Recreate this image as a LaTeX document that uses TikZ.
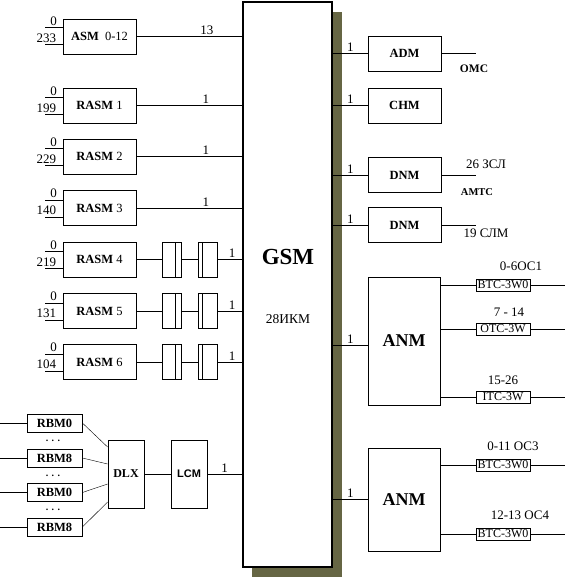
\documentclass[tikz,border=0pt]{standalone}
\usepackage{fontspec}
\setmainfont{Liberation Serif}
\setsansfont{Liberation Sans}
\definecolor{gsmshadow}{RGB}{102,102,68}

\begin{document}
\begin{tikzpicture}[x=1pt,y=-1pt,line width=0.8pt,
  blk/.style={draw,fill=white,minimum width=73pt,minimum height=35pt,inner sep=0pt,font=\fontsize{12.5}{14}\selectfont},
  rbm/.style={draw,minimum width=55pt,minimum height=18pt,inner sep=0pt,font=\fontsize{12.5}{14}\selectfont\bfseries},
  tc/.style={draw,minimum width=54pt,minimum height=12pt,inner sep=0pt,font=\fontsize{12}{12}\selectfont},
  lbl/.style={font=\fontsize{13}{15}\selectfont,inner sep=1.5pt},
  fltl/.style={draw,minimum width=19pt,minimum height=35pt,inner sep=0pt,
    path picture={\draw ([xshift=-6pt]path picture bounding box.north east) -- ([xshift=-6pt]path picture bounding box.south east);}},
  fltr/.style={draw,minimum width=19pt,minimum height=35pt,inner sep=0pt,
    path picture={\draw ([xshift=4pt]path picture bounding box.north west) -- ([xshift=4pt]path picture bounding box.south west);}}]
\useasboundingbox (0,0) rectangle (567,579);

\fill [gsmshadow] (252,12) rectangle (342,577);
\node (gsm) [draw,fill=white,line width=2.5pt,minimum width=89pt,minimum height=565pt,inner sep=0pt] at (287.5,284.5) {};
\node (gsmt) [font=\fontsize{23}{26}\selectfont\bfseries] at (288,257) {GSM};
\node (ikm) [font=\fontsize{13.5}{15}\selectfont] at (288,319) {28ИКМ};

% left side
\node[blk] (asm) at (99.5,36.5) {\textbf{ASM}\ \ 0-12};
\node[blk] (rasm1) at (99.5,105.5) {\textbf{RASM} 1};
\node[blk] (rasm2) at (99.5,156.5) {\textbf{RASM} 2};
\node[blk] (rasm3) at (99.5,208) {\textbf{RASM} 3};
\node[blk] (rasm4) at (99.5,259.5) {\textbf{RASM} 4};
\node[blk] (rasm5) at (99.5,311) {\textbf{RASM} 5};
\node[blk] (rasm6) at (99.5,362) {\textbf{RASM} 6};

\draw ([yshift=9pt]asm.west) -- ++(-18,0) node[lbl,pos=0.5,above] {0};
\draw ([yshift=-8pt]asm.west) -- ++(-18,0) node[lbl,pos=1,above right,xshift=-10pt] {233};
\draw ([yshift=8pt]rasm1.west) -- ++(-18,0) node[lbl,pos=0.5,above] {0};
\draw ([yshift=-9pt]rasm1.west) -- ++(-18,0) node[lbl,pos=1,above right,xshift=-10pt] {199};
\draw ([yshift=8pt]rasm2.west) -- ++(-18,0) node[lbl,pos=0.5,above] {0};
\draw ([yshift=-9pt]rasm2.west) -- ++(-18,0) node[lbl,pos=1,above right,xshift=-10pt] {229};
\draw ([yshift=8pt]rasm3.west) -- ++(-18,0) node[lbl,pos=0.5,above] {0};
\draw ([yshift=-9pt]rasm3.west) -- ++(-18,0) node[lbl,pos=1,above right,xshift=-10pt] {140};
\draw ([yshift=8pt]rasm4.west) -- ++(-18,0) node[lbl,pos=0.5,above] {0};
\draw ([yshift=-9pt]rasm4.west) -- ++(-18,0) node[lbl,pos=1,above right,xshift=-10pt] {219};
\draw ([yshift=8pt]rasm5.west) -- ++(-18,0) node[lbl,pos=0.5,above] {0};
\draw ([yshift=-9pt]rasm5.west) -- ++(-18,0) node[lbl,pos=1,above right,xshift=-10pt] {131};
\draw ([yshift=8pt]rasm6.west) -- ++(-18,0) node[lbl,pos=0.5,above] {0};
\draw ([yshift=-9pt]rasm6.west) -- ++(-18,0) node[lbl,pos=1,above right,xshift=-10pt] {104};

\draw (asm) -- (asm -| gsm.west) node[lbl,pos=0.67,above] {13};
\draw (rasm1) -- (rasm1 -| gsm.west) node[lbl,pos=0.66,above] {1};
\draw (rasm2) -- (rasm2 -| gsm.west) node[lbl,pos=0.66,above] {1};
\draw (rasm3) -- (rasm3 -| gsm.west) node[lbl,pos=0.66,above] {1};

\node[fltl] (f4a) at (171.5,259.5) {};
\node[fltr] (f4b) at (207.5,259.5) {};
\node[fltl] (f5a) at (171.5,311) {};
\node[fltr] (f5b) at (207.5,311) {};
\node[fltl] (f6a) at (171.5,362) {};
\node[fltr] (f6b) at (207.5,362) {};
\draw (rasm4) -- (f4a) -- (f4b) -- (f4b -| gsm.west) node[lbl,pos=0.6,above] {1};
\draw (rasm5) -- (f5a) -- (f5b) -- (f5b -| gsm.west) node[lbl,pos=0.6,above] {1};
\draw (rasm6) -- (f6a) -- (f6b) -- (f6b -| gsm.west) node[lbl,pos=0.6,above] {1};

% RBM, DLX, LCM
\node[rbm] (rbma) at (54.5,423) {RBM0};
\node[rbm] (rbmb) at (54.5,458) {RBM8};
\node[rbm] (rbmc) at (54.5,492.5) {RBM0};
\node[rbm] (rbmd) at (54.5,527) {RBM8};
\node (dota) [font=\bfseries] at (53,441) {. . .};
\node (dotb) [font=\bfseries] at (53,476) {. . .};
\node (dotc) [font=\bfseries] at (53,510) {. . .};
\draw (rbma.west) -- ++(-27,0);
\draw (rbmb.west) -- ++(-27,0);
\draw (rbmc.west) -- ++(-27,0);
\draw (rbmd.west) -- ++(-27,0);

\node (dlx) [draw,minimum width=36pt,minimum height=68pt,inner sep=0pt,font=\fontsize{12}{14}\selectfont\bfseries] at (126,474) {DLX};
\node (lcm) [draw,minimum width=36pt,minimum height=68pt,inner sep=0pt,font=\fontsize{11}{13}\selectfont\sffamily\bfseries] at (189,474) {LCM};
\draw [line width=0.4pt] (rbma.east) -- ([yshift=27pt]dlx.west);
\draw [line width=0.4pt] (rbmb.east) -- ([yshift=10pt]dlx.west);
\draw [line width=0.4pt] (rbmc.east) -- ([yshift=-10pt]dlx.west);
\draw [line width=0.4pt] (rbmd.east) -- ([yshift=-28pt]dlx.west);
\draw (dlx) -- (lcm);
\draw (lcm) -- (lcm -| gsm.west) node[lbl,midway,above] {1};

% right side
\node[blk] (adm) at (404.5,53.5) {\textbf{ADM}};
\node[blk] (chm) at (404.5,105.5) {\textbf{CHM}};
\node[blk] (dnma) at (404.5,175) {\textbf{DNM}};
\node[blk] (dnmb) at (404.5,225) {\textbf{DNM}};
\draw (gsm.east |- adm) -- (adm) node[lbl,midway,above] {1};
\draw (gsm.east |- chm) -- (chm) node[lbl,midway,above] {1};
\draw (gsm.east |- dnma) -- (dnma) node[lbl,midway,above] {1};
\draw (gsm.east |- dnmb) -- (dnmb) node[lbl,midway,above] {1};
\draw (adm.east) -- ++(35,0);
\draw (dnma.east) -- ++(35,0);
\draw (dnmb.east) -- ++(35,0);
\node (omc) [font=\fontsize{11.5}{13}\selectfont\bfseries] at (474,69) {OMC};
\node (zsl) [lbl] at (486,164) {26 ЗСЛ};
\node (amts) [font=\fontsize{10.5}{12}\selectfont\bfseries] at (477,192) {АМТС};
\node (slm) [lbl] at (486,233) {19 СЛМ};

\node (anma) [draw,minimum width=72pt,minimum height=128pt,inner sep=0pt,font=\fontsize{18}{20}\selectfont\bfseries] at (404,341) {ANM};
\node (anmb) [draw,minimum width=72pt,minimum height=103pt,inner sep=0pt,font=\fontsize{18}{20}\selectfont\bfseries] at (404,499.5) {ANM};
\draw (gsm.east |- 0,345) -- ([yshift=-4pt]anma.west) node[lbl,midway,above] {1};
\draw (gsm.east |- anmb) -- (anmb) node[lbl,midway,above] {1};

\node[tc] (tca) at (503,285) {BTC-3W0};
\node[tc] (tcb) at (503,329) {OTC-3W};
\node[tc] (tcc) at (503,397) {ITC-3W};
\node[tc] (tcd) at (503,465) {BTC-3W0};
\node[tc] (tce) at (503,534) {BTC-3W0};
\draw (tca -| anma.east) -- (tca) -- ++(62,0);
\draw (tcb -| anma.east) -- (tcb) -- ++(62,0);
\draw (tcc -| anma.east) -- (tcc) -- ++(62,0);
\draw (tcd -| anmb.east) -- (tcd) -- ++(62,0);
\draw (tce -| anmb.east) -- (tce) -- ++(62,0);
\node (oca) [lbl] at (521,266) {0-6ОС1};
\node (ocb) [lbl] at (509,312) {7 - 14};
\node (occ) [lbl] at (503,380) {15-26};
\node (ocd) [lbl] at (513,446) {0-11 ОС3};
\node (oce) [lbl] at (520,515) {12-13 ОС4};
\end{tikzpicture}
\end{document}
